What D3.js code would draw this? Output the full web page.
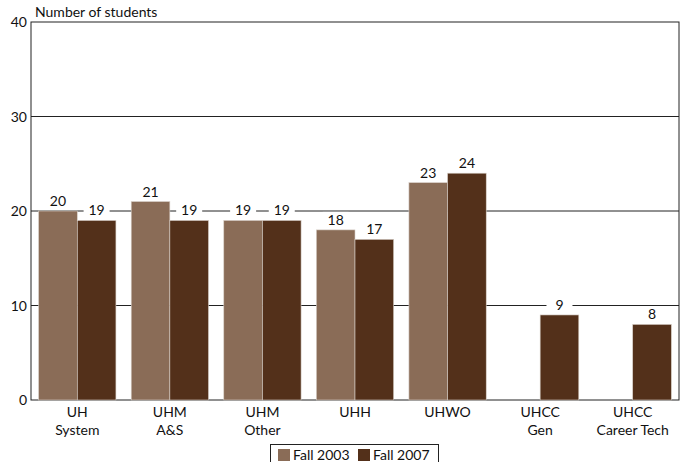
<!DOCTYPE html>
<html><head><meta charset="utf-8">
<script src="https://cdn.jsdelivr.net/npm/d3@7"></script>
<style>body{margin:0;background:#fff}svg{display:block}text{font-family:Lato,"Open Sans",sans-serif;fill:#111}</style>
</head><body><svg id="c" width="688" height="462"></svg>
<script>
const categories = [["UH","System"],["UHM","A&S"],["UHM","Other"],["UHH",""],["UHWO",""],["UHCC","Gen"],["UHCC","Career Tech"]];
const fall2003 = [20,21,19,18,23,null,null];
const fall2007 = [19,19,19,17,24,9,8];
const seriesNames = ["Fall 2003","Fall 2007"];
const colors = ["#8a6c57","#53301a"];
const yTicks = [0,10,20,30,40];

const svg = d3.select("#c");
const L=31,R=679,T=22,B=400;
const x = d3.scaleBand().domain(d3.range(categories.length)).range([L,R]).paddingInner(0.165).paddingOuter(0.0825);
const xs = d3.scaleBand().domain([0,1]).range([0,x.bandwidth()]);
const y = d3.scaleLinear().domain([0,40]).range([B,T]);

// grid
svg.append("g").selectAll("line").data(yTicks.filter(d=>d>0&&d<40)).join("line")
  .attr("x1",L).attr("x2",R).attr("y1",d=>y(d)).attr("y2",d=>y(d)).attr("stroke","#222").attr("stroke-width",1);
// frame
svg.append("rect").attr("x",L).attr("y",T).attr("width",R-L).attr("height",B-T).attr("fill","none").attr("stroke","#222").attr("stroke-width",1);

// y axis labels
svg.append("g").selectAll("text").data(yTicks).join("text")
  .attr("x",L-4).attr("y",d=>y(d)+5).attr("text-anchor","end").attr("font-size",14).text(d=>d);
svg.append("text").attr("x",35).attr("y",17).attr("font-size",14).text("Number of students");

const data=[];
categories.forEach((c,i)=>{[fall2003[i],fall2007[i]].forEach((v,s)=>{if(v!=null)data.push({i,s,v});});});

svg.append("g").selectAll("rect").data(data).join("rect")
  .attr("x",d=>x(d.i)+xs(d.s)).attr("width",xs.bandwidth()).attr("y",d=>y(d.v)).attr("height",d=>B-y(d.v))
  .attr("fill",d=>colors[d.s]).attr("stroke","#d8d0c8").attr("stroke-width",0.6);

// value labels with white knockout
const lg = svg.append("g");
data.forEach(d=>{
  const cx = x(d.i)+xs(d.s)+xs.bandwidth()/2;
  const by = y(d.v)-5;
  lg.append("rect").attr("x",cx-13).attr("y",by-13).attr("width",26).attr("height",15).attr("fill","#fff");
  lg.append("text").attr("x",cx).attr("y",by).attr("text-anchor","middle").attr("font-size",14).text(d.v);
});

// x labels
const xl = svg.append("g");
categories.forEach((c,i)=>{
  const cx = x(i)+x.bandwidth()/2;
  xl.append("text").attr("x",cx).attr("y",417).attr("text-anchor","middle").attr("font-size",14).text(c[0]);
  if(c[1]) xl.append("text").attr("x",cx).attr("y",435).attr("text-anchor","middle").attr("font-size",14).text(c[1]);
});

// legend
const leg = svg.append("g");
leg.append("rect").attr("x",270.5).attr("y",444.5).attr("width",168).attr("height",22).attr("fill","#fff").attr("stroke","#222");
const lx=[278,358];
seriesNames.forEach((n,k)=>{
  leg.append("rect").attr("x",lx[k]).attr("y",449).attr("width",12).attr("height",12).attr("fill",colors[k]);
  leg.append("text").attr("x",lx[k]+15).attr("y",460).attr("font-size",14).text(n);
});
</script></body></html>
